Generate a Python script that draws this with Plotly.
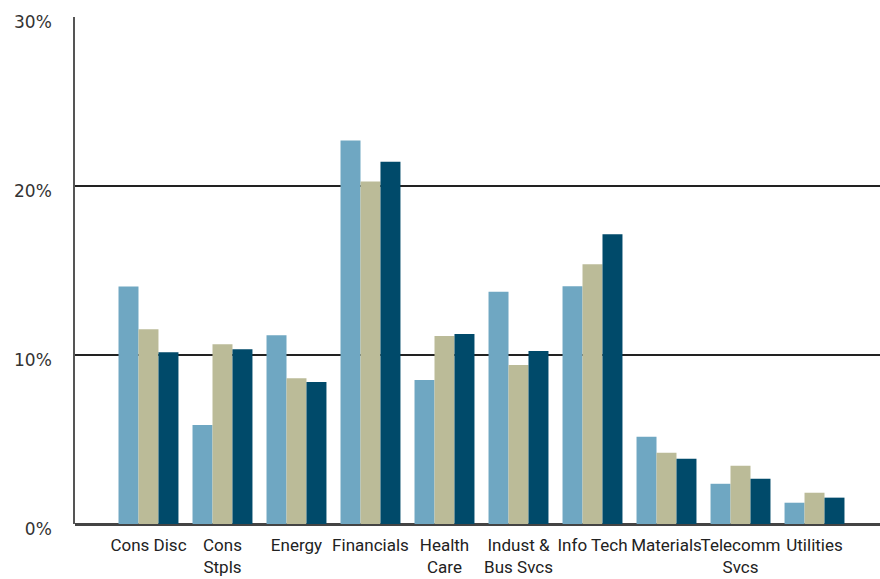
import plotly.graph_objects as go

# Sector weights (%) for three portfolios
sectors = ["Cons Disc", "Cons<br>Stpls", "Energy", "Financials", "Health<br>Care",
           "Indust &<br>Bus Svcs", "Info Tech", "Materials", "Telecomm<br>Svcs", "Utilities"]
series_a = [14.06, 5.86, 11.17, 22.69, 8.52, 13.74, 14.07, 5.16, 2.38, 1.26]
series_b = [11.52, 10.64, 8.63, 20.26, 11.13, 9.41, 15.37, 4.21, 3.44, 1.85]
series_c = [10.17, 10.34, 8.40, 21.44, 11.25, 10.24, 17.15, 3.86, 2.68, 1.56]

y_ticks = [0, 10, 20, 30]
y_tick_text = ["0%", "10%", "20%", "30%"]

colors = ["#6fa7c2", "#bbbb98", "#004a6a"]

fig = go.Figure()
for vals, col in zip([series_a, series_b, series_c], colors):
    fig.add_trace(go.Bar(x=sectors, y=vals, marker=dict(color=col, line=dict(width=0)),
                         showlegend=False))

fig.update_layout(
    width=880, height=579,
    margin=dict(l=75, r=0, t=17, b=55, autoexpand=False),
    paper_bgcolor="white", plot_bgcolor="white",
    barmode="group", bargap=0.19, bargroupgap=0,
    font=dict(family="DejaVu Sans", color="#333"),
)
fig.update_xaxes(
    type="category", range=[-0.993, 9.885], automargin=False,
    showgrid=False, showline=False, ticks="", tickangle=0,
    tickfont=dict(family="Liberation Sans Narrow, Roboto", size=17, color="#222"),
    ticklabelstandoff=9,
)
fig.update_yaxes(
    range=[0, 30], tickvals=y_ticks, ticktext=y_tick_text, automargin=False,
    showgrid=True, gridcolor="#222", gridwidth=1.5,
    zeroline=True, zerolinecolor="#444", zerolinewidth=2.5,
    showline=True, linecolor="#555", linewidth=1.5,
    ticks="", tickfont=dict(family="DejaVu Sans", size=17, color="#333"),
    ticklabelstandoff=18, ticklabelshift=5,
)

fig.write_html("out.html")
